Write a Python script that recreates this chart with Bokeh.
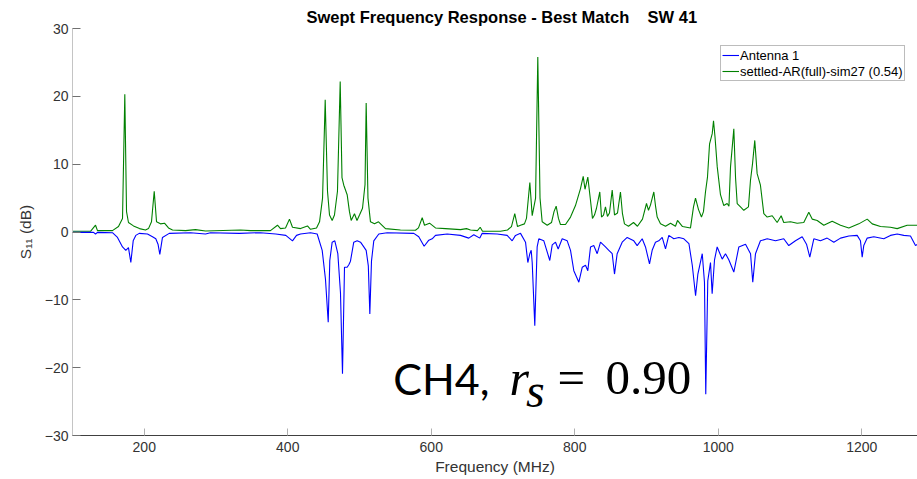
from bokeh.plotting import figure
from bokeh.models import Range1d, FixedTicker, Label, Legend, LegendItem
from bokeh.embed import file_html
from bokeh.resources import INLINE

# ---- data ----
freq_sim = [100.0, 125.1, 132.1, 134.8, 155.7, 164.1, 169.7, 172.9, 175.3, 178.0, 185.0, 193.4,
            201.7, 205.9, 210.1, 213.9, 217.1, 222.6, 228.2, 233.8, 239.4, 257.5, 271.4, 285.4,
            334.1, 348.1, 375.9, 385.7, 389.9, 396.9, 402.4, 406.6, 417.8, 427.5, 431.7, 440.1,
            444.3, 448.5, 452.2, 455.4, 458.2, 461.9, 465.1, 469.3, 473.1, 475.6, 478.1, 482.8,
            486.0, 488.4, 493.0, 496.5, 500.0, 504.2, 507.7, 509.3, 511.8, 515.3, 520.9, 526.5,
            536.2, 557.1, 578.0, 582.2, 587.4, 590.6, 597.6, 605.9, 619.8, 640.8, 649.1, 654.7,
            664.4, 668.2, 671.4, 696.5, 706.3, 711.8, 716.4, 720.2, 724.4, 729.9, 732.7, 737.4,
            740.7, 745.4, 748.5, 751.6, 754.6, 761.6, 767.6, 771.1, 774.1, 777.3, 780.1, 787.1,
            794.1, 801.0, 808.0, 811.8, 814.3, 818.2, 822.0, 824.7, 827.5, 830.3, 834.9, 837.3,
            840.1, 842.8, 845.6, 848.4, 852.2, 855.4, 859.6, 863.7, 866.5, 869.3, 874.9, 881.9,
            887.4, 894.4, 900.0, 902.8, 905.6, 910.2, 912.5, 914.9, 919.5, 926.5, 933.5, 940.4,
            943.2, 950.2, 961.3, 965.5, 968.3, 972.5, 976.6, 979.4, 982.2, 985.0, 987.9, 991.6,
            993.4, 995.5, 998.6, 1003.1, 1007.7, 1012.4, 1014.9, 1017.1, 1021.7, 1024.1, 1026.4,
            1031.0, 1035.6, 1042.1, 1044.9, 1047.7, 1050.9, 1054.2, 1058.8, 1063.5, 1068.2,
            1075.2, 1082.1, 1087.7, 1091.3, 1100.7, 1110.0, 1119.2, 1126.2, 1130.9, 1137.9,
            1147.1, 1158.8, 1170.4, 1182.0, 1195.9, 1207.6, 1214.6, 1226.1, 1240.0, 1249.4,
            1263.3, 1277.7]
s11_sim = [0.1, 0.1, 1.0, 0.2, 0.2, 0.8, 2.0, 20.3, 3.0, 1.4, 0.9, 0.5,
           0.3, 0.5, 1.5, 6.0, 1.5, 1.2, 1.3, 0.6, 0.3, 0.2, 0.35, 0.15,
           0.3, 0.2, 0.2, 1.0, 0.5, 0.6, 1.9, 0.7, 0.5, 0.9, 0.4, 0.6,
           1.5, 5.0, 19.5, 6.0, 2.5, 1.7, 2.5, 6.0, 22.2, 8.0, 6.9, 5.5,
           3.0, 1.7, 2.7, 1.7, 2.5, 3.5, 7.0, 19.0, 5.0, 1.5, 1.2, 1.5,
           0.5, 0.3, 0.25, 0.6, 2.1, 1.0, 1.3, 0.6, 0.5, 0.35, 0.5, 0.3,
           0.2, 0.7, 0.1, 0.1, 0.3, 0.8, 2.7, 0.8, 1.0, 1.2, 2.0, 7.3,
           2.4, 5.0, 25.8, 5.0, 1.5, 1.0, 1.4, 3.0, 3.8, 2.0, 1.1, 1.1,
           2.2, 3.9, 6.4, 8.2, 6.3, 8.1, 4.6, 2.0, 2.5, 3.5, 5.9, 2.2,
           2.5, 3.7, 2.3, 2.8, 6.2, 2.5, 2.8, 5.9, 2.7, 1.2, 0.85, 1.4,
           0.85, 1.9, 4.2, 3.2, 4.0, 5.9, 3.9, 2.2, 1.2, 0.85, 1.3, 0.85,
           1.7, 0.8, 0.6, 3.7, 5.0, 3.3, 2.2, 3.0, 5.9, 8.1, 13.0, 14.5,
           16.4, 14.0, 9.6, 5.5, 3.9, 4.2, 3.8, 9.6, 15.2, 8.0, 4.2,
           3.7, 3.2, 3.7, 7.6, 10.0, 13.5, 8.6, 6.9, 2.7, 2.2,
           2.4, 1.4, 2.4, 1.4, 1.5, 1.3, 1.4, 2.9, 1.9, 1.7,
           1.0, 1.6, 1.0, 0.6, 1.2, 1.9, 1.2, 0.8, 0.7, 0.5,
           1.0, 1.0]

freq_ant = [100.0, 129.3, 132.1, 134.8, 155.7, 162.7, 169.7, 174.3, 178.0, 181.3, 184.6, 188.2,
            193.0, 204.5, 211.5, 216.1, 219.2, 221.7, 225.4, 234.8, 264.5, 285.4, 292.3, 332.3,
            362.0, 383.3, 397.3, 406.6, 412.2, 417.8, 431.7, 441.0, 448.0, 452.6, 456.4, 458.6,
            461.9, 465.6, 469.8, 473.5, 476.3, 479.1, 482.8, 485.3, 487.4, 492.0, 496.8, 501.4,
            506.0, 509.3, 512.3, 514.4, 516.7, 519.9, 526.9, 538.6, 575.7, 582.6, 590.1, 596.6,
            601.3, 605.9, 622.2, 640.8, 652.3, 659.3, 667.7, 671.0, 691.9, 705.8, 712.8, 717.4,
            724.4, 731.4, 734.6, 737.4, 739.3, 740.7, 744.3, 747.6, 749.9, 756.9, 765.2, 768.6,
            773.2, 776.9, 782.5, 789.5, 794.1, 798.7, 805.7, 810.4, 815.0, 818.2, 822.0, 826.5,
            831.3, 835.9, 842.8, 847.5, 852.2, 855.4, 859.1, 866.1, 873.1, 882.3, 887.0, 894.0,
            898.6, 904.2, 907.9, 912.5, 917.1, 921.9, 926.5, 931.1, 938.1, 945.1, 952.1, 959.1,
            963.8, 968.4, 971.6, 977.7, 980.8, 982.6, 985.4, 989.2, 991.5, 994.8, 998.5, 1005.5,
            1010.1, 1014.7, 1021.7, 1028.7, 1038.0, 1045.0, 1048.1, 1051.9, 1058.8, 1068.2,
            1079.8, 1091.3, 1098.3, 1107.6, 1117.0, 1123.0, 1127.6, 1133.2, 1142.5, 1151.8,
            1161.1, 1170.4, 1182.0, 1193.6, 1198.2, 1200.6, 1202.8, 1207.6, 1216.8, 1230.7,
            1240.0, 1249.4, 1258.6, 1267.9, 1274.9, 1277.7]
s11_ant = [-0.05, -0.05, -0.3, -0.05, -0.1, -0.8, -2.2, -2.7, -2.3, -4.5, -1.3, -0.5,
           -0.2, -0.3, -0.7, -1.0, -1.8, -3.3, -0.8, -0.2, -0.1, -0.3, -0.1, -0.2,
           -0.1, -0.3, -0.5, -1.3, -0.5, -0.3, -0.1, -0.3, -2.7, -7.0, -13.3, -4.2,
           -1.5, -1.3, -3.2, -9.0, -20.9, -5.2, -5.2, -4.8, -4.3, -1.5, -1.3, -1.5,
           -2.2, -2.7, -5.0, -12.1, -4.3, -1.3, -0.3, -0.1, -0.2, -0.7, -2.1, -1.2,
           -1.0, -0.5, -0.3, -0.5, -0.9, -0.4, -0.9, -0.2, -0.3, -0.5, -1.3, -0.5,
           -0.2, -1.5, -4.5, -3.2, -2.7, -4.5, -13.8, -2.2, -1.0, -1.3, -4.2, -1.9,
           -1.5, -2.5, -1.0, -1.3, -2.7, -5.7, -7.4, -5.2, -4.9, -5.7, -2.2, -2.0,
           -3.2, -1.5, -2.2, -2.7, -3.2, -6.2, -3.2, -1.5, -0.8, -1.3, -2.0, -1.0,
           -2.2, -4.7, -2.7, -1.5, -1.3, -0.8, -2.5, -0.5, -1.0, -0.8, -1.0, -1.7,
           -4.9, -9.4, -6.2, -3.2, -7.4, -23.9, -7.2, -4.5, -9.1, -4.1, -2.2, -4.0,
           -3.2, -4.1, -5.9, -2.2, -1.8, -3.2, -7.4, -3.2, -1.3, -1.0,
           -1.3, -1.0, -2.0, -1.3, -0.7, -1.8, -3.7, -1.0, -1.3, -0.9,
           -1.5, -0.9, -0.6, -0.5, -1.3, -3.7, -2.0, -0.9, -0.7, -1.0,
           -0.5, -0.3, -0.5, -0.6, -2.0, -1.8]

x_ticks = [200, 400, 600, 800, 1000, 1200]
y_ticks = [-30, -20, -10, 0, 10, 20, 30]
title_text = "Swept Frequency Response - Best Match\u00a0\u00a0\u00a0\u00a0SW 41"
series_names = ["Antenna 1", "settled-AR(full)-sim27 (0.54)"]

AX = "#333333"
SANS = "Liberation Sans"
SERIF = "Liberation Serif"

p = figure(width=917, height=479, output_backend="svg", toolbar_location=None,
           x_range=Range1d(100, 1277.7), y_range=Range1d(-30, 30),
           min_border_left=72, min_border_right=0, min_border_top=28, min_border_bottom=44)
p.outline_line_color = None
p.xgrid.visible = False
p.ygrid.visible = False
p.background_fill_color = "white"
p.border_fill_color = "white"

# title
p.title.text = title_text
p.title.align = "left"
p.title.offset = 234
p.title.standoff = 6
p.title.text_font = SANS
p.title.text_font_size = "16.5px"
p.title.text_font_style = "bold"
p.title.text_color = "black"

r_sim = p.line(freq_sim, s11_sim, line_color="#008000", line_width=1.1)
r_ant = p.line(freq_ant, s11_ant, line_color="#0000ff", line_width=1.1)

# axes
xa = p.xaxis[0]
xa.ticker = FixedTicker(ticks=x_ticks)
xa.axis_label = "Frequency (MHz)"
xa.axis_line_color = "#404040"
xa.major_tick_line_color = "#b0b0b0"
xa.major_tick_in = 7
xa.major_tick_out = 0
xa.minor_tick_line_color = None
xa.major_label_text_font = SANS
xa.major_label_text_font_size = "14px"
xa.major_label_text_color = AX
xa.major_label_standoff = 6
xa.axis_label_text_font = SANS
xa.axis_label_text_font_size = "15.5px"
xa.axis_label_text_font_style = "normal"
xa.axis_label_text_color = AX
xa.axis_label_standoff = 3

ya = p.yaxis[0]
ya.ticker = FixedTicker(ticks=y_ticks)
ya.axis_label = "S\u2081\u2081 (dB)"
ya.axis_line_color = "#c4c4c4"
ya.major_tick_line_color = "#707070"
ya.major_tick_in = 8
ya.major_tick_out = 0
ya.minor_tick_line_color = None
ya.major_label_text_font = SANS
ya.major_label_text_font_size = "14px"
ya.major_label_text_color = AX
ya.major_label_standoff = 4
ya.axis_label_text_font = SANS
ya.axis_label_text_font_size = "15.5px"
ya.axis_label_text_font_style = "normal"
ya.axis_label_text_color = AX
ya.axis_label_standoff = 8

# legend
legend = Legend(items=[LegendItem(label=series_names[0], renderers=[r_ant]),
                       LegendItem(label=series_names[1], renderers=[r_sim])],
                location=(648, 354))
legend.label_text_font = SANS
legend.label_text_font_size = "13px"
legend.label_text_color = "black"
legend.glyph_width = 17
legend.glyph_height = 16
legend.label_height = 16
legend.label_standoff = 1
legend.spacing = 0
legend.padding = 1
legend.margin = 0
legend.border_line_color = "#7a7a7a"
legend.border_line_width = 1
legend.background_fill_alpha = 1.0
p.add_layout(legend)

# large annotation "CH4, r_s = 0.90"
p.add_layout(Label(x=547.0, y=-21.6, text="CH4,", text_font="Lato",
                   text_font_size="43px", text_color="black", text_baseline="alphabetic"))
p.add_layout(Label(x=709.0, y=-21.5, text="r", text_font=SERIF, text_font_size="50px",
                   text_font_style="italic", text_color="black", text_baseline="alphabetic"))
p.add_layout(Label(x=732.0, y=-23.3, text="s", text_font=SERIF, text_font_size="48px",
                   text_font_style="italic", text_color="black", text_baseline="alphabetic"))
p.add_layout(Label(x=776.0, y=-21.5, text="=", text_font=SERIF, text_font_size="49px",
                   text_color="black", text_baseline="alphabetic"))
p.add_layout(Label(x=842.8, y=-21.5, text="0.90", text_font=SERIF, text_font_size="49px",
                   text_color="black", text_baseline="alphabetic"))

open("out.html", "w").write(file_html(p, INLINE))
